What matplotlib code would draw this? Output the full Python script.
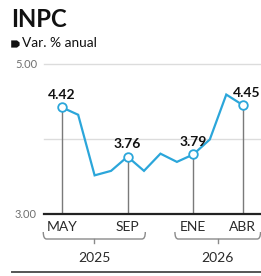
import matplotlib
matplotlib.use("Agg")
import matplotlib.pyplot as plt
from matplotlib.path import Path
from matplotlib.patches import PathPatch, Polygon
from matplotlib.transforms import blended_transform_factory

# ---- data ----
months = ['MAY', 'JUN', 'JUL', 'AGO', 'SEP', 'OCT', 'NOV', 'DIC', 'ENE', 'FEB', 'MAR', 'ABR']
years = [2025, 2025, 2025, 2025, 2025, 2025, 2025, 2025, 2026, 2026, 2026, 2026]
values = [4.42, 4.32, 3.51, 3.57, 3.76, 3.57, 3.80, 3.69, 3.79, 3.99, 4.59, 4.45]
highlight = ['MAY', 'SEP', 'ENE', 'ABR']
ytick_vals = [3.0, 4.0, 5.0]
ytick_labels = ['3.00', '', '5.00']
title = 'INPC'
subtitle = 'Var. % anual'

FONT = 'Lato'
BLUE = '#2ba6da'

W, H = 261, 276
fig = plt.figure(figsize=(W / 100, H / 100), dpi=100)
fig.patch.set_facecolor('white')

def fx(px):
    return px / W

def fy(py):
    return 1 - py / H

ax = fig.add_axes([fx(43.5), fy(213.5), 1 - fx(43.5), fy(63.9) - fy(213.5)])
x = list(range(len(months)))
ax.set_xlim(-1.106, 12.11)
ax.set_ylim(3.0, 5.0)

for v in ytick_vals[1:]:
    ax.axhline(v, color='#dcdcdc', lw=1.0, zorder=0, clip_on=False)
ax.axhline(3.0, color='#222222', lw=1.6, zorder=3, clip_on=False)

# vertical drop lines and labels
for i, m in enumerate(months):
    if m in highlight:
        ax.plot([i, i], [3.0, values[i]], color='#7a7a7a', lw=1.0, zorder=1)

ax.plot(x, values, color=BLUE, lw=1.6, zorder=2, solid_joinstyle='miter')
hx = [i for i, m in enumerate(months) if m in highlight]
hv = [values[i] for i in hx]
ax.plot(hx, hv, ls='none', marker='o', ms=6.2, mfc='white', mec=BLUE, mew=1.3, zorder=4)
for i in hx:
    dx = 3 if i == len(months) - 1 else 0
    ax.annotate(f'{values[i]:.2f}', (i, values[i]), xytext=(dx, 8.8), textcoords='offset points',
                ha='center', va='center', fontsize=10, fontweight='bold', family=FONT,
                color='#111111', zorder=5, annotation_clip=False)

ax.set_yticks(ytick_vals)
ax.set_yticklabels(ytick_labels)
ax.tick_params(axis='y', length=0, pad=4.7, labelsize=8, labelcolor='#707070')
for lab in ax.get_yticklabels():
    lab.set_family(FONT)
ax.set_xticks(hx)
ax.set_xticklabels([months[i] for i in hx])
ax.tick_params(axis='x', length=0, pad=5.5, labelsize=10, labelcolor='#2a2a2a')
for lab in ax.get_xticklabels():
    lab.set_family(FONT)
for s in ax.spines.values():
    s.set_visible(False)
ax.patch.set_alpha(0)

# year braces
tr = blended_transform_factory(ax.transData, fig.transFigure)
yl, ye, yt = fy(239), fy(232), fy(243.3)
r = 0.2
for yr in sorted(set(years)):
    idx = [i for i in hx if years[i] == yr]
    a, b = idx[0] - 1.12, idx[-1] + 1.08
    mid = (a + b) / 2
    verts = [(a, ye), (a, yl), (a + r, yl), (b - r, yl), (b, yl), (b, ye)]
    codes = [Path.MOVETO, Path.CURVE3, Path.CURVE3, Path.LINETO, Path.CURVE3, Path.CURVE3]
    fig.add_artist(PathPatch(Path(verts, codes), transform=tr, fill=False, ec='#8a8a8a', lw=1.0))
    fig.add_artist(plt.Line2D([mid, mid], [yl, yt], transform=tr, color='#8a8a8a', lw=1.0))
    fig.text(mid, fy(258), str(yr), transform=tr, ha='center', va='center', fontsize=10,
             family=FONT, color='#2a2a2a')

# bottom rule
fig.add_artist(plt.Line2D([fx(11.7), 1.0], [fy(271.7), fy(271.7)], transform=fig.transFigure,
                          color='#555555', lw=1.4))

# title and subtitle
fig.text(fx(11.5), fy(26.7), title, ha='left', va='baseline', fontsize=17.2, fontweight='bold',
         family=FONT, color='#111111')
tag = [(11.2, 40.4), (17.0, 40.4), (19.6, 42.5), (19.6, 45.5), (17.0, 47.6), (11.2, 47.6)]
fig.add_artist(Polygon([(fx(px), fy(py)) for px, py in tag], closed=True,
                       transform=fig.transFigure, fc='#111111', ec='none'))
fig.text(fx(21.9), fy(46.9), subtitle, ha='left', va='baseline', fontsize=9.9,
         family=FONT, color='#111111')

fig.savefig('out.png', dpi=100, facecolor='white')
